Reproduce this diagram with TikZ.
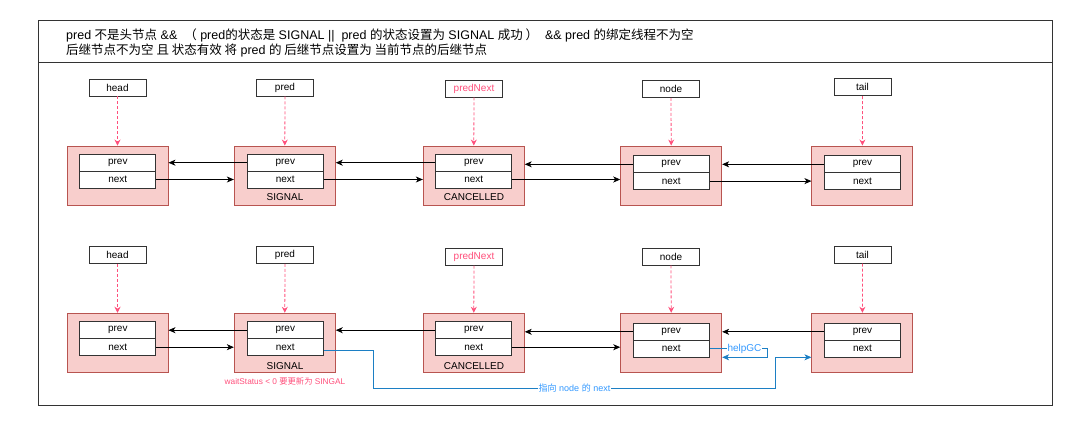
\documentclass[tikz,border=0pt]{standalone}
\usepackage{fontspec}
\setmainfont{Liberation Sans}
\newfontfamily\cjk{Noto Sans CJK SC}
\usetikzlibrary{arrows.meta}
\definecolor{redfill}{HTML}{F8CECC}
\definecolor{redline}{HTML}{B85450}
\definecolor{ptrpink}{HTML}{FF4F7B}
\definecolor{bline}{HTML}{1C7FC4}
\definecolor{btext}{HTML}{3399FF}
\definecolor{frameg}{HTML}{333333}
\begin{document}
\begin{tikzpicture}[x=1pt,y=-1pt,
  outerbox/.style={draw=redline, fill=redfill, line width=0.9pt, minimum width=101pt, minimum height=59pt, inner sep=0pt},
  cell/.style={draw=frameg, fill=white, line width=0.8pt, minimum width=76pt, minimum height=17pt, inner sep=0pt, font=\fontsize{10}{12}\selectfont},
  lbl/.style={draw=frameg, fill=white, line width=0.8pt, minimum width=57pt, minimum height=17pt, inner sep=0pt, font=\fontsize{10}{12}\selectfont},
  state/.style={inner sep=0pt, font=\fontsize{10}{12}\selectfont},
  ptr/.style={draw=ptrpink, line width=0.8pt, dash pattern=on 3pt off 2pt, -{Stealth[length=6pt,width=6pt,inset=2pt]}},
  link/.style={draw=black, line width=0.8pt, -{Stealth[length=7pt,width=6pt,inset=2pt]}},
  blink/.style={draw=bline, line width=0.8pt, -{Stealth[length=7pt,width=6pt,inset=2pt]}},
  hdr/.style={anchor=west, inner sep=0pt, font=\fontsize{12.5}{14}\selectfont}
]
\useasboundingbox (0,0) rectangle (1080,437);
% frame
\draw[frameg, line width=0.9pt] (38,20) rectangle (1052,405);
\draw[frameg, line width=0.9pt] (38,62) -- (1052,62);
\node[hdr] (hdr1) at (66,35) {pred {\cjk 不是头节点} \&\&\ \ {\cjk （} pred{\cjk 的状态是} SIGNAL ||\ \ pred {\cjk 的状态设置为} SIGNAL {\cjk 成功 ）}\ \ \&\& pred {\cjk 的绑定线程不为空}};
\node[hdr] (hdr2) at (66,51) {{\cjk 后继节点不为空 且 状态有效 将} pred {\cjk 的 后继节点设置为 当前节点的后继节点}};

% ---------- row 1 ----------
\node[outerbox] (h1) at (117.5,175.5) {};
\node[cell] (h1prev) at (117.8,162.7) {prev};
\node[cell] (h1next) at (117.8,179.5) {next};
\node[lbl] (h1l) at (117.5,87.5) {head};

\node[outerbox] (p1) at (284.8,175.5) {};
\node[cell] (p1prev) at (285.3,162.7) {prev};
\node[cell] (p1next) at (285.3,179.5) {next};
\node[state] (p1s) at (285,197.5) {SIGNAL};
\node[lbl] (p1l) at (285,87.5) {pred};

\node[outerbox] (c1) at (473.8,175.5) {};
\node[cell] (c1prev) at (473.8,162.7) {prev};
\node[cell] (c1next) at (473.8,179.5) {next};
\node[state] (c1s) at (474,197) {CANCELLED};
\node[lbl, text=ptrpink] (c1l) at (474,88.5) {predNext};

\node[outerbox] (n1) at (671.2,175.5) {};
\node[cell] (n1prev) at (671.2,164.3) {prev};
\node[cell] (n1next) at (671.2,181.1) {next};
\node[lbl] (n1l) at (671,89) {node};

\node[outerbox] (t1) at (862.4,175.5) {};
\node[cell] (t1prev) at (862.5,164.3) {prev};
\node[cell] (t1next) at (862.5,181.1) {next};
\node[lbl] (t1l) at (862.5,87.3) {tail};

\foreach \a/\b in {h1l/h1,p1l/p1,c1l/c1,n1l/n1,t1l/t1}{\draw[ptr] (\a.south) -- (\b.north);}
\draw[link] (p1prev.west) -- (h1.east |- p1prev.west);
\draw[link] (c1prev.west) -- (p1.east |- c1prev.west);
\draw[link] (n1prev.west) -- (c1.east |- n1prev.west);
\draw[link] (t1prev.west) -- (n1.east |- t1prev.west);
\draw[link] (h1next.east) -- (p1.west |- h1next.east);
\draw[link] (p1next.east) -- (c1.west |- p1next.east);
\draw[link] (c1next.east) -- (n1.west |- c1next.east);
\draw[link] (n1next.east) -- (t1.west |- n1next.east);

% ---------- row 2 ----------
\node[outerbox] (h2) at (117.5,342.7) {};
\node[cell] (h2prev) at (117.8,330.2) {prev};
\node[cell] (h2next) at (117.8,347.2) {next};
\node[lbl] (h2l) at (117.5,255) {head};

\node[outerbox] (p2) at (284.8,342.7) {};
\node[cell] (p2prev) at (285.3,330.2) {prev};
\node[cell] (p2next) at (285.3,347.2) {next};
\node[state] (p2s) at (285,365.7) {SIGNAL};
\node[lbl] (p2l) at (285,255) {pred};
\node[inner sep=0pt, text=ptrpink, font=\fontsize{8.3}{10}\selectfont] (p2w) at (285,381.5) {waitStatus < 0 {\cjk 要更新为} SINGAL};

\node[outerbox] (c2) at (473.8,342.7) {};
\node[cell] (c2prev) at (473.8,330.2) {prev};
\node[cell] (c2next) at (473.8,347.2) {next};
\node[state] (c2s) at (474,365.7) {CANCELLED};
\node[lbl, text=ptrpink] (c2l) at (474,256.7) {predNext};

\node[outerbox] (n2) at (671.2,342.7) {};
\node[cell] (n2prev) at (671.2,331.8) {prev};
\node[cell] (n2next) at (671.2,348.8) {next};
\node[lbl] (n2l) at (671,256.5) {node};

\node[outerbox] (t2) at (862.4,342.7) {};
\node[cell] (t2prev) at (862.5,331.8) {prev};
\node[cell] (t2next) at (862.5,348.8) {next};
\node[lbl] (t2l) at (862.5,254.7) {tail};

\foreach \a/\b in {h2l/h2,p2l/p2,c2l/c2,n2l/n2,t2l/t2}{\draw[ptr] (\a.south) -- (\b.north);}
\draw[link] (p2prev.west) -- (h2.east |- p2prev.west);
\draw[link] (c2prev.west) -- (p2.east |- c2prev.west);
\draw[link] (n2prev.west) -- (c2.east |- n2prev.west);
\draw[link] (t2prev.west) -- (n2.east |- t2prev.west);
\draw[link] (h2next.east) -- (p2.west |- h2next.east);
\draw[link] (c2next.east) -- (n2.west |- c2next.east);

% blue connectors
\coordinate (b1) at (373.3,388.3);
\coordinate (b2) at (775.7,388.3);
\coordinate (b3) at (775.7,357.3);
\draw[blink] ([yshift=-3.5pt]p2next.east) -| (b1) -- node[fill=white, inner sep=0.5pt, text=btext, font=\fontsize{9}{11}\selectfont] (gotxt) {{\cjk 指向} node {\cjk 的} next} (b2) -- (b3) -- (t2.west |- b3);
\coordinate (g1) at (767.7,357.3);
\draw[blink] (n2next.east) -| node[pos=0.3, fill=white, inner sep=0.5pt, text=btext, font=\fontsize{10}{12}\selectfont] (gc) {helpGC} (g1) -- (n2.east |- g1);
\end{tikzpicture}
\end{document}
